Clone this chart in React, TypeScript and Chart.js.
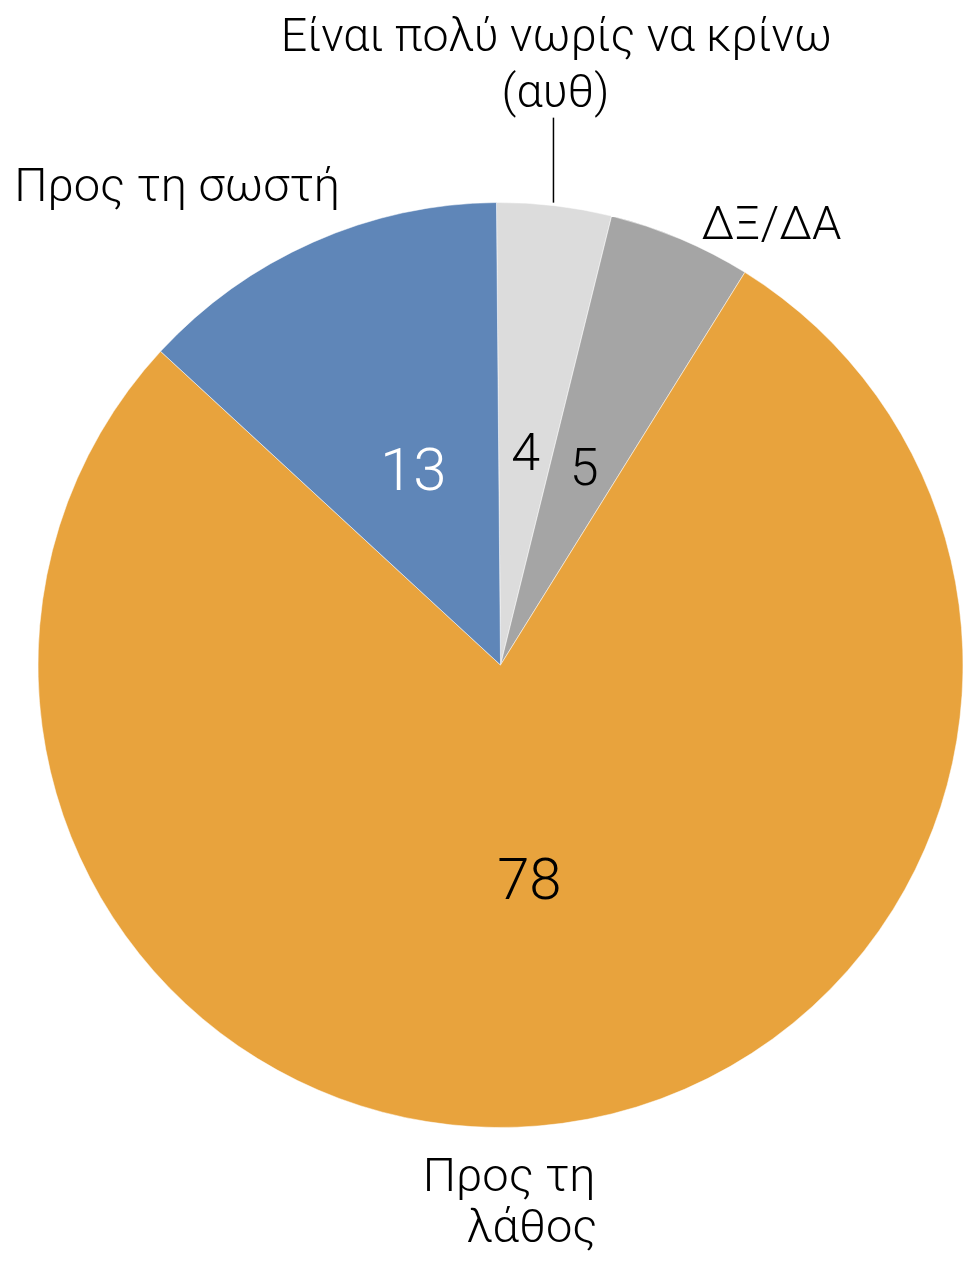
import React, { useEffect, useRef } from "react";
import { Chart, registerables } from "chart.js";

Chart.register(...registerables);

const categories = [
  "Είναι πολύ νωρίς να κρίνω (αυθ)",
  "ΔΞ/ΔΑ",
  "Προς τη λάθος",
  "Προς τη σωστή",
];
const values = [4, 5, 78, 13];
const colors = ["#dcdcdc", "#a5a5a5", "#e8a33d", "#5f86b8"];
const valueColors = ["#000000", "#000000", "#000000", "#ffffff"];
const valueFontSizes = [52, 52, 58, 60];
const outerLines = [
  ["Είναι πολύ νωρίς να κρίνω", "(αυθ)"],
  ["ΔΞ/ΔΑ"],
  ["Προς τη", "λάθος"],
  ["Προς τη σωστή"],
];

const FONT = "Roboto, 'Liberation Sans', sans-serif";

const labelPlugin = {
  id: "pieLabels",
  afterDatasetsDraw(chart: any) {
    const ctx = chart.ctx;
    const meta = chart.getDatasetMeta(0);
    ctx.save();
    meta.data.forEach((arc: any, i: number) => {
      const { x, y, startAngle, endAngle, outerRadius } = arc.getProps(
        ["x", "y", "startAngle", "endAngle", "outerRadius"],
        true
      );
      const mid = (startAngle + endAngle) / 2;
      // value label inside
      const ri = outerRadius * 0.465;
      const fs = valueFontSizes[i];
      ctx.fillStyle = valueColors[i];
      ctx.font = `300 ${fs}px ${FONT}`;
      ctx.textAlign = "center";
      ctx.textBaseline = "alphabetic";
      ctx.fillText(
        String(values[i]),
        x + Math.cos(mid) * ri,
        y + Math.sin(mid) * ri + fs * 0.355
      );

      // outer labels
      const ox = x + Math.cos(mid) * outerRadius;
      const oy = y + Math.sin(mid) * outerRadius;
      ctx.fillStyle = "#000000";
      const lines = outerLines[i];
      if (i === 0) {
        ctx.font = `300 46.5px ${FONT}`;
        ctx.textAlign = "center";
        ctx.fillText(lines[0], ox + 2, oy - 155);
        ctx.fillText(lines[1], ox + 1, oy - 99);
        ctx.strokeStyle = "#000000";
        ctx.lineWidth = 1.5;
        ctx.beginPath();
        ctx.moveTo(ox - 1, oy - 3);
        ctx.lineTo(ox - 1, oy - 88);
        ctx.stroke();
      } else if (i === 1) {
        ctx.font = `300 47px ${FONT}`;
        ctx.textAlign = "center";
        ctx.fillText(lines[0], ox + 91, oy);
      } else if (i === 2) {
        ctx.font = `300 47px ${FONT}`;
        ctx.textAlign = "right";
        ctx.fillText(lines[0], ox + 33, oy + 68);
        ctx.fillText(lines[1], ox + 35, oy + 119);
      } else {
        ctx.font = `300 47px ${FONT}`;
        ctx.textAlign = "center";
        ctx.fillText(lines[0], ox - 136, oy - 41);
      }
    });
    ctx.restore();
  },
};

export default function App() {
  const ref = useRef<HTMLCanvasElement | null>(null);
  useEffect(() => {
    if (!ref.current) return;
    const chart = new Chart(ref.current, {
      type: "pie",
      data: {
        labels: categories,
        datasets: [
          {
            data: values,
            backgroundColor: colors,
            borderColor: "rgba(255,255,255,0.5)",
            borderWidth: 1,
          },
        ],
      },
      options: {
        animation: false,
        responsive: true,
        maintainAspectRatio: false,
        rotation: -0.5,
        layout: { padding: { left: 37, right: 2, top: 202, bottom: 133 } },
        plugins: {
          legend: { display: false },
          tooltip: { enabled: false },
        },
      },
      plugins: [labelPlugin],
    });
    return () => chart.destroy();
  }, []);
  return (
    <div style={{ position: "fixed", left: 0, top: 0, width: 966, height: 1261, background: "#ffffff" }}>
      <canvas ref={ref} />
    </div>
  );
}
